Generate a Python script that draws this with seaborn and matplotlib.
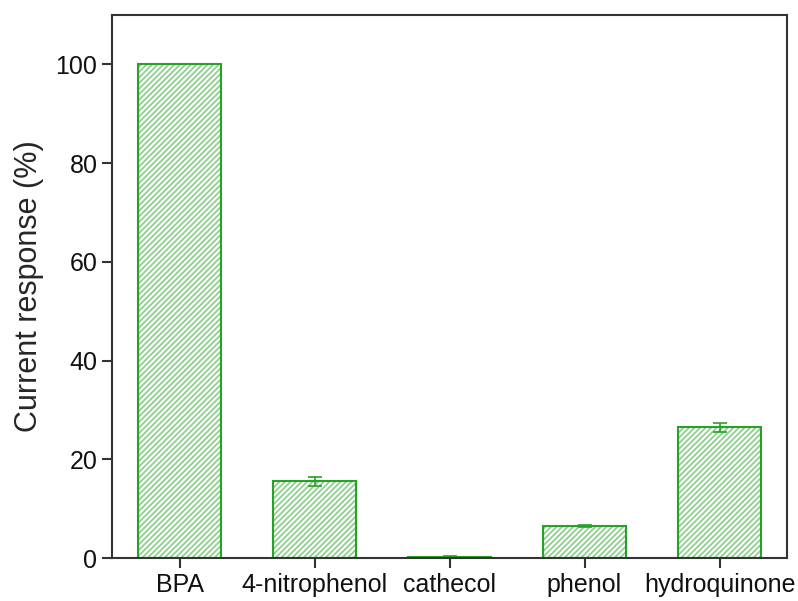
import matplotlib
matplotlib.use("Agg")
import matplotlib.pyplot as plt
import seaborn as sns
import pandas as pd

compounds = ["BPA", "4-nitrophenol", "cathecol", "phenol", "hydroquinone"]
response = [100.0, 15.5, 0.3, 6.5, 26.5]
response_err = [0.0, 1.0, 0.2, 0.2, 0.9]
y_ticks = [0, 20, 40, 60, 80, 100]

EDGE = "#26a226"
HATCH = "#8fcf8f"

sns.set_theme(style="ticks")
plt.rcParams["font.family"] = ["Liberation Sans", "DejaVu Sans"]
plt.rcParams["hatch.linewidth"] = 1.3

df = pd.DataFrame({"compound": compounds, "response": response})

fig = plt.figure(figsize=(7.98, 6.01), dpi=100)
ax = fig.add_axes([112 / 798, 1 - 558 / 601, (787 - 112) / 798, (558 - 15) / 601])

# hatched fill: the patch edge colour drives the hatch colour
sns.barplot(data=df, x="compound", y="response", ax=ax, width=0.61,
            color="white", edgecolor=HATCH, linewidth=0, errorbar=None)
for patch in list(ax.patches):
    patch.set_hatch("//////")
    patch.set_facecolor("white")
    patch.set_edgecolor(HATCH)
    patch.set_linewidth(0)

# solid outline on top of the same bars
sns.barplot(data=df, x="compound", y="response", ax=ax, width=0.61,
            fill=False, edgecolor=EDGE, linewidth=1.5, errorbar=None)

ax.errorbar(range(len(compounds)), response, yerr=response_err, fmt="none",
            ecolor=EDGE, elinewidth=1.2, capsize=5, capthick=1.2)

ax.set_xlim(-0.5, 4.5)
ax.set_ylim(0, 110)
ax.set_yticks(y_ticks)
ax.set_xlabel("")
ax.set_ylabel("Current response (%)", fontsize=22, labelpad=8)
ax.tick_params(axis="both", labelsize=18, direction="out", length=7, width=1.5,
               color="#333333", labelcolor="#111111")
for s in ax.spines.values():
    s.set_linewidth(1.5)
    s.set_color("#333333")

fig.savefig("out.png", dpi=100)
